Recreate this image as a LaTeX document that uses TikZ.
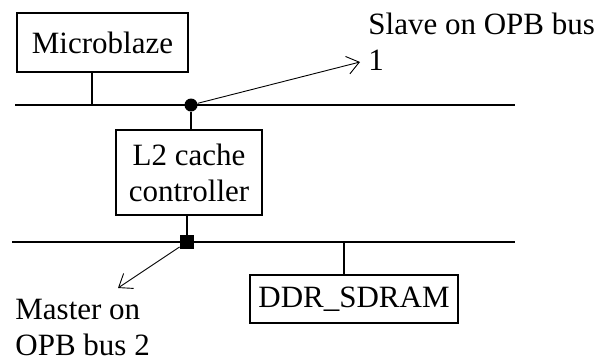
\documentclass[tikz,border=0pt]{standalone}
\usepackage{fontspec}
\setmainfont{Liberation Serif}
\usetikzlibrary{arrows.meta}

\begin{document}
\begin{tikzpicture}[
  x=0.5pt, y=-0.5pt,
  box/.style={draw, line width=0.6pt, inner sep=0pt, align=center,
              font=\fontsize{15.5}{18}\selectfont},
  bus/.style={line width=0.6pt},
  lbl/.style={anchor=base west, inner sep=0pt, align=left,
              font=\fontsize{15.5}{18}\selectfont},
  arr/.style={-{Straight Barb[length=6pt,width=9pt]}, line width=0.45pt}]
\useasboundingbox (0,0) rectangle (597,360);
% blocks
\node[box, minimum width=85.5pt, minimum height=29.5pt] (mb) at (102.5,42.5) {Microblaze};
\node[box, minimum width=73pt, minimum height=42.5pt] (l2) at (189,172.5) {L2 cache\\controller};
\node[box, minimum width=104pt, minimum height=24pt] (ddr) at (354,299) {DDR\_SDRAM};
% buses
\coordinate (b1w) at (15,105);  \coordinate (b1e) at (515,105);
\coordinate (b2w) at (12,242);  \coordinate (b2e) at (515,242);
\draw[bus] (b1w) -- (b1e);
\draw[bus] (b2w) -- (b2e);
% taps
\node[circle, fill, inner sep=0pt, minimum size=6.5pt] (slv) at (191,105) {};
\node[fill, inner sep=0pt, minimum size=7pt] (mst) at (187,242) {};
\coordinate (t1) at (92,105);
\coordinate (t3) at (344,242);
\draw[bus] (mb.south -| t1) -- (t1);
\draw[bus] (slv) -- (l2.north -| slv);
\draw[bus] (l2.south -| mst) -- (mst);
\draw[bus] (t3) -- (t3 |- ddr.north);
% labels (base = last line)
\node[lbl] (slvtxt) at (368,70) {Slave on OPB bus\\1};
\node[lbl] (msttxt) at (15,355) {Master on\\OPB bus 2};
\coordinate (a1) at (360,62);
\coordinate (a2) at (118,288);
\draw[arr] (slv) -- (a1);
\draw[arr] (mst) -- (a2);
\end{tikzpicture}
\end{document}
